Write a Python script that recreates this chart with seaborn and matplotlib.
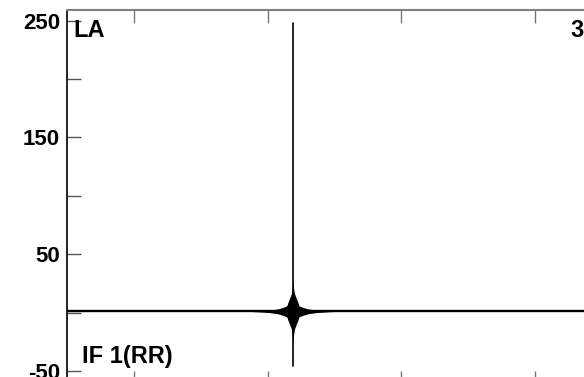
import matplotlib
matplotlib.use('Agg')
import matplotlib.pyplot as plt
import seaborn as sns
import pandas as pd
import numpy as np

# trace: flat baseline with one sharp spike
base_x = [0.5, 2.19, 4.5]
base_vals = [1, 1, 1]
spike_xs = [2.19, 2.19, 2.19]
spike_vals = [248, 1, -46]

spike_x = 2.19
base_y = 1

# ringing around the spike
# horizontal arm: offset in x, half thickness in y
horiz_dx = [0, 0.037, 0.075, 0.112, 0.172, 0.262, 0.337]
horiz_half = [6.8, 5.1, 3.4, 2.1, 1.1, 0.4, 0]
# vertical arm: offset in y, half width in x
vert_dy = [0, 3.4, 7.7, 12, 15.4, 20.5, 26.5]
vert_half = [0.056, 0.049, 0.037, 0.022, 0.011, 0.0045, 0]

y_major = [-50, 50, 150, 250]
y_minor = [0, 100, 200]
x_ticks = [1, 2, 3, 4]

sns.set_style("ticks")
plt.rcParams['font.family'] = ['Liberation Sans', 'DejaVu Sans']
plt.rcParams['font.weight'] = 'bold'
plt.rcParams['text.color'] = 'black'

fig = plt.figure(figsize=(5.84, 3.77), dpi=100)
ax = fig.add_axes([67/584, 1 - 384/377, (600 - 67)/584, 374/377])

df_base = pd.DataFrame({'x': base_x, 'y': base_vals})
sns.lineplot(data=df_base, x='x', y='y', estimator=None, sort=False,
             color='black', linewidth=1.7, ax=ax)
df_spike = pd.DataFrame({'x': spike_xs, 'y': spike_vals})
sns.lineplot(data=df_spike, x='x', y='y', estimator=None, sort=False,
             color='black', linewidth=1.2, ax=ax)

# star shaped blob at the spike
hx = np.array(horiz_dx)
hh = np.array(horiz_half)
xs = np.concatenate([spike_x - hx[::-1], spike_x + hx[1:]])
hs = np.concatenate([hh[::-1], hh[1:]])
ax.fill_between(xs, base_y - hs, base_y + hs, color='black', linewidth=0)

vy = np.array(vert_dy)
vh = np.array(vert_half)
ys = np.concatenate([base_y - vy[::-1], base_y + vy[1:]])
ws = np.concatenate([vh[::-1], vh[1:]])
ax.fill_betweenx(ys, spike_x - ws, spike_x + ws, color='black', linewidth=0)

ax.set_xlim(0.498, 4.49)
ax.set_ylim(-61.2, 259.0)
ax.set_xlabel('')
ax.set_ylabel('')

ax.set_yticks(y_major)
ax.set_yticks(y_minor, minor=True)
ax.set_yticklabels([str(v) for v in y_major], fontsize=16, fontweight='bold',
                   color='black')
ax.tick_params(axis='y', which='both', direction='in', length=10,
               width=1, color='#555555', pad=5)

ax.set_xticks(x_ticks)
ax.set_xticklabels([])
ax.tick_params(axis='x', which='both', direction='in', length=9.5,
               width=1, color='#777777', top=True, bottom=True)

ax.spines['top'].set_color('#808080')
ax.spines['top'].set_linewidth(1.5)
ax.spines['left'].set_color('black')
ax.spines['left'].set_linewidth(1.2)
ax.spines['right'].set_visible(False)

fig.text(73/584, 1 - 37/377, 'LA', fontsize=17, fontweight='bold', va='baseline')
fig.text(570/584, 1 - 37/377, '3', fontsize=17, fontweight='bold', va='baseline')
fig.text(82/584, 1 - 363/377, 'IF 1(RR)', fontsize=17, fontweight='bold', va='baseline')

plt.savefig('out.png', dpi=100)
